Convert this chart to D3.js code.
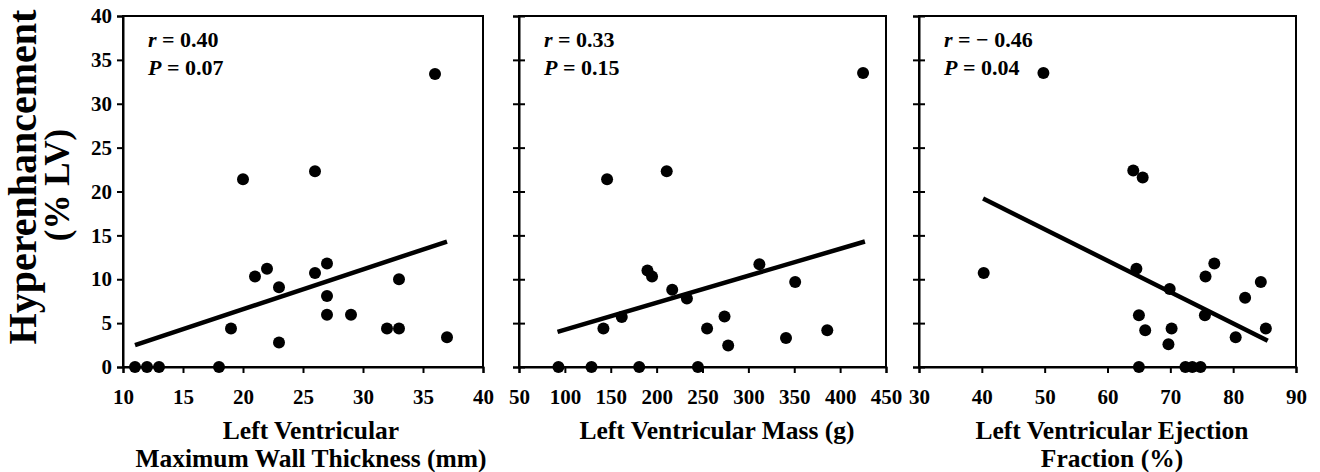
<!DOCTYPE html>
<html>
<head>
<meta charset="utf-8">
<script src="https://cdn.jsdelivr.net/npm/d3@7"></script>
<style>
  body { margin: 0; background: #fff; }
</style>
</head>
<body>
<div id="chart"></div>
<script>
const FONT = "'Liberation Serif', 'DejaVu Serif', 'Times New Roman', Times, serif"

// y values shared by all panels (% LV hyperenhancement)
const yTicks = [0, 5, 10, 15, 20, 25, 30, 35, 40]

// panel 1: max wall thickness (mm)
const wallX = [11, 12, 13, 18, 19, 20, 21, 22, 23, 23, 26, 26, 27, 27, 27, 29, 32, 33, 33, 36, 37]
const wallY = [0, 0, 0, 0, 4.4, 21.4, 10.3, 11.2, 9.1, 2.8, 22.3, 10.7, 11.8, 8.1, 5.95, 5.95, 4.4, 4.4, 10.0, 33.4, 3.4]
const wallFitX = [11, 37]
const wallFitY = [2.5, 14.3]
const wallTicks = [10, 15, 20, 25, 30, 35, 40]

// panel 2: LV mass (g)
const massX = [93, 129, 181, 245, 146, 211, 142, 162, 190, 195, 217, 233, 255, 274, 278, 312, 351, 341, 386, 425]
const massY = [0, 0, 0, 0, 21.4, 22.3, 4.4, 5.7, 11.0, 10.3, 8.8, 7.8, 4.4, 5.75, 2.45, 11.7, 9.7, 3.3, 4.2, 33.5]
const massFitX = [92, 427]
const massFitY = [4.0, 14.3]
const massTicks = [50, 100, 150, 200, 250, 300, 350, 400, 450]

// panel 3: ejection fraction (%)
const efX = [49.8, 40.3, 64.1, 65.6, 64.6, 65.0, 66.0, 65, 69.9, 70.2, 69.7, 72.4, 73.5, 74.8, 75.6, 77.0, 75.5, 80.4, 81.9, 84.4, 85.2]
const efY = [33.5, 10.7, 22.4, 21.6, 11.2, 5.9, 4.2, 0, 8.9, 4.4, 2.6, 0, 0, 0, 10.3, 11.8, 5.9, 3.4, 7.9, 9.7, 4.4]
const efFitX = [40.2, 85.5]
const efFitY = [19.2, 3.0]
const efTicks = [30, 40, 50, 60, 70, 80, 90]

const panels = [
  { xs: wallX, ys: wallY, fx: wallFitX, fy: wallFitY, ticks: wallTicks, left: 123, right: 483,
    r: "0.40", p: "0.07", title: ["Left Ventricular", "Maximum Wall Thickness (mm)"], titleX: 311, yLabels: true },
  { xs: massX, ys: massY, fx: massFitX, fy: massFitY, ticks: massTicks, left: 519, right: 886,
    r: "0.33", p: "0.15", title: ["Left Ventricular Mass (g)"], titleX: 717, yLabels: false },
  { xs: efX, ys: efY, fx: efFitX, fy: efFitY, ticks: efTicks, left: 919, right: 1296,
    r: "\u2212 0.46", p: "0.04", title: ["Left Ventricular Ejection", "Fraction (%)"], titleX: 1112, yLabels: false },
]

const width = 1320
const height = 472
const plotTop = 16
const plotBottom = 367

const svg = d3.select("#chart")
  .append("svg")
  .attr("width", width)
  .attr("height", height)
  .attr("font-family", FONT)
  .attr("font-weight", "bold")

const y = d3.scaleLinear().domain([0, 40]).range([plotBottom, plotTop])

panels.forEach((p) => {
  const x = d3.scaleLinear()
    .domain([p.ticks[0], p.ticks[p.ticks.length - 1]])
    .range([p.left, p.right])

  const g = svg.append("g")

  // frame
  g.append("rect")
    .attr("x", p.left)
    .attr("y", plotTop)
    .attr("width", p.right - p.left)
    .attr("height", plotBottom - plotTop)
    .attr("fill", "none")
    .attr("stroke", "#000")
    .attr("stroke-width", 2)

  // x axis
  const xAxis = g.append("g")
    .attr("transform", `translate(0,${plotBottom})`)
    .call(d3.axisBottom(x).tickValues(p.ticks).tickSize(6).tickPadding(16))
  xAxis.attr("font-family", FONT).attr("font-size", 21)
  xAxis.select(".domain").attr("stroke-width", 2)
  xAxis.selectAll(".tick line").attr("stroke-width", 2)

  // y axis
  const yAxis = g.append("g")
    .attr("transform", `translate(${p.left},0)`)
    .call(d3.axisLeft(y).tickValues(yTicks).tickSize(6).tickPadding(5)
      .tickFormat(p.yLabels ? d3.format("d") : () => ""))
  yAxis.attr("font-family", FONT).attr("font-size", 21)
  yAxis.select(".domain").attr("stroke-width", 2)
  yAxis.selectAll(".tick line").attr("stroke-width", 2)
  if (!p.yLabels) yAxis.selectAll(".tick line").attr("x2", 6).attr("x1", -6)

  // regression line
  g.append("line")
    .attr("x1", x(p.fx[0]))
    .attr("y1", y(p.fy[0]))
    .attr("x2", x(p.fx[1]))
    .attr("y2", y(p.fy[1]))
    .attr("stroke", "#000")
    .attr("stroke-width", 4.5)

  // points
  g.selectAll("circle")
    .data(p.xs.map((v, i) => [v, p.ys[i]]))
    .enter()
    .append("circle")
    .attr("cx", (d) => x(d[0]))
    .attr("cy", (d) => y(d[1]))
    .attr("r", 6)
    .attr("fill", "#000")

  // r / P annotation
  const rText = g.append("text")
    .attr("x", p.left + 25)
    .attr("y", 47)
    .attr("font-size", 22)
  rText.append("tspan").attr("font-style", "italic").text("r")
  rText.append("tspan").text(` = ${p.r}`)

  const pText = g.append("text")
    .attr("x", p.left + 25)
    .attr("y", 75)
    .attr("font-size", 22)
  pText.append("tspan").attr("font-style", "italic").text("P")
  pText.append("tspan").text(` = ${p.p}`)

  // x title
  p.title.forEach((line, i) => {
    g.append("text")
      .attr("x", p.titleX)
      .attr("y", 439 + i * 28)
      .attr("text-anchor", "middle")
      .attr("font-size", 25.5)
      .text(line)
  })
})

// y title
svg.append("text")
  .attr("transform", "translate(36,177) rotate(-90)")
  .attr("text-anchor", "middle")
  .attr("font-size", 40)
  .text("Hyperenhancement")

svg.append("text")
  .attr("transform", "translate(69,185) rotate(-90)")
  .attr("text-anchor", "middle")
  .attr("font-size", 35)
  .text("(% LV)")
</script>
</body>
</html>
